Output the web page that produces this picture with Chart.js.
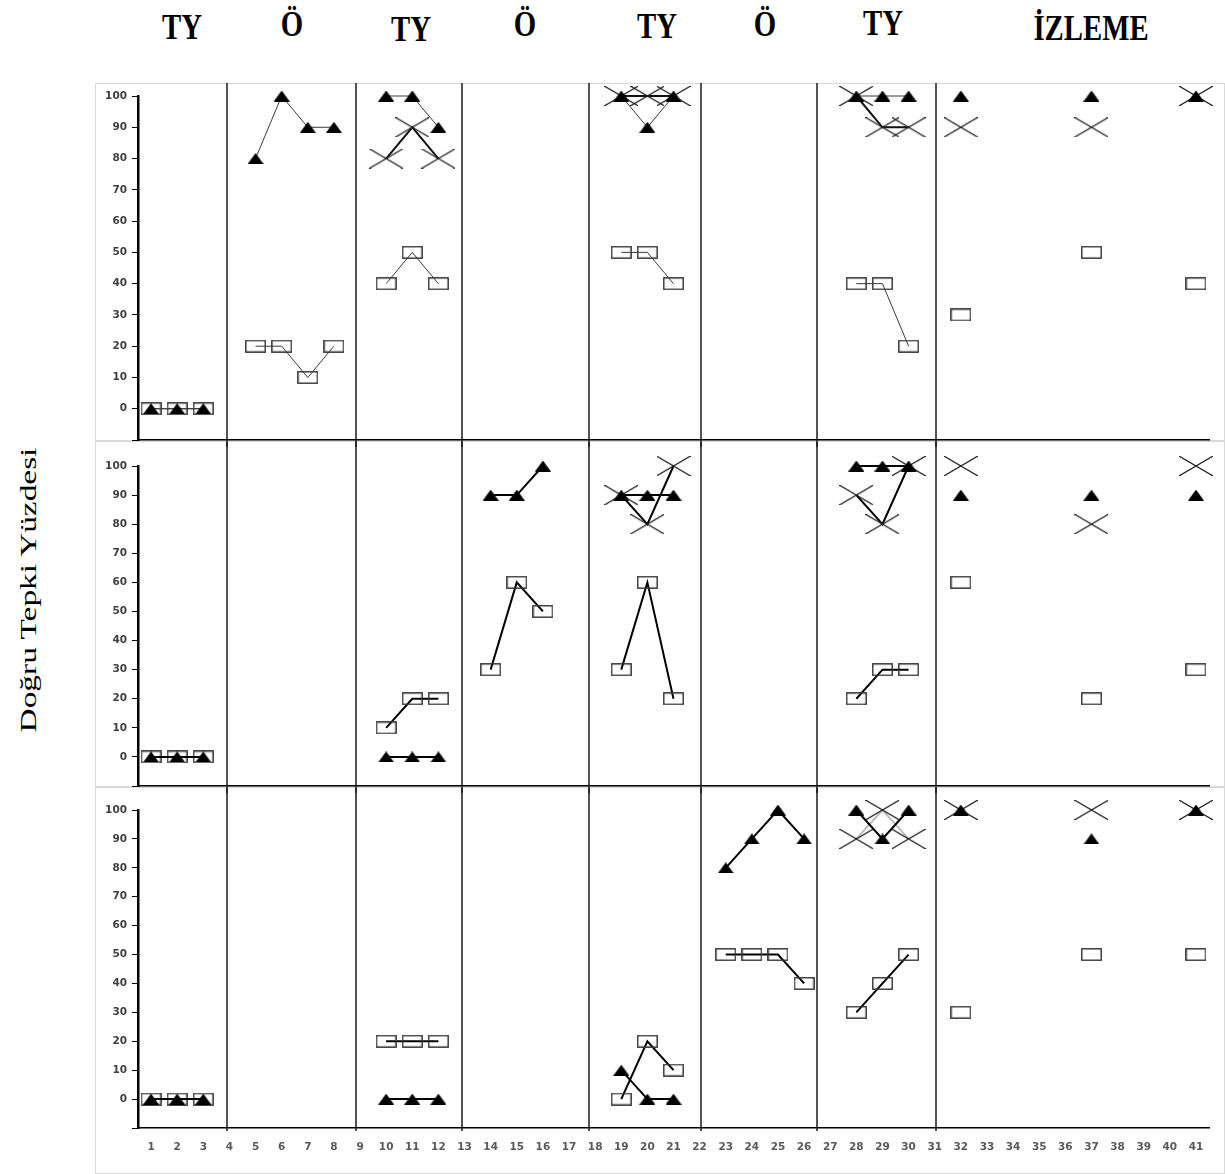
<!DOCTYPE html>
<html>
<head>
<meta charset="utf-8">
<script src="https://cdn.jsdelivr.net/npm/chart.js@4.4.1/dist/chart.umd.min.js"></script>
<style>
  body{margin:0;background:#fff;width:1225px;height:1174px;position:relative;overflow:hidden;}
  .panel{position:absolute;left:95px;width:1130px;}
  .phase{position:absolute;font:bold 36px 'Liberation Serif',serif;color:#000;white-space:nowrap;
         transform:translate(-50%,-50%) scaleX(0.8);line-height:1;}
  #ytitle{position:absolute;left:28px;top:590px;font:23px 'Liberation Serif',serif;color:#000;white-space:nowrap;
          transform:translate(-50%,-50%) rotate(-90deg) scaleX(1.45);line-height:1;}
</style>
</head>
<body>
<div class="phase" style="left:182px;top:27px">TY</div>
<div class="phase" style="left:292px;top:24px">Ö</div>
<div class="phase" style="left:411px;top:29px">TY</div>
<div class="phase" style="left:525px;top:24px">Ö</div>
<div class="phase" style="left:657px;top:26px">TY</div>
<div class="phase" style="left:765px;top:24px">Ö</div>
<div class="phase" style="left:883px;top:23px">TY</div>
<div class="phase" style="left:1091px;top:28px">İZLEME</div>
<div id="ytitle">Doğru Tepki Yüzdesi</div>

<div class="panel" style="top:83px;height:364px"><canvas id="p1"></canvas></div>
<div class="panel" style="top:441px;height:352px"><canvas id="p2"></canvas></div>
<div class="panel" style="top:787px;height:387px"><canvas id="p3"></canvas></div>

<script>
const _ = null;
// oturumlar 1..41
const sessions = Array.from({length:41}, (v,i)=>i+1);
// faz ayırıcı çizgiler (oturum ekseninde)
const phaseBreaks = [3.9, 8.85, 12.9, 17.75, 22.05, 26.5, 31.05];

// panel 1
const p1Tri   = [0,0,0,_,80,100,90,90,_,100,100,90,_,_,_,_,_,_,100,90,100,_,_,_,_,_,_,100,100,100,_,100,_,_,_,_,100,_,_,_,100];
const p1Box   = [0,0,0,_,20,20,10,20,_,40,50,40,_,_,_,_,_,_,50,50,40,_,_,_,_,_,_,40,40,20,_,30,_,_,_,_,50,_,_,_,40];
const p1Cross = [_,_,_,_,_,_,_,_,_,80,90,80,_,_,_,_,_,_,100,100,100,_,_,_,_,_,_,100,90,90,_,90,_,_,_,_,90,_,_,_,100];
// panel 2
const p2Tri   = [0,0,0,_,_,_,_,_,_,0,0,0,_,90,90,100,_,_,90,90,90,_,_,_,_,_,_,100,100,100,_,90,_,_,_,_,90,_,_,_,90];
const p2Box   = [0,0,0,_,_,_,_,_,_,10,20,20,_,30,60,50,_,_,30,60,20,_,_,_,_,_,_,20,30,30,_,60,_,_,_,_,20,_,_,_,30];
const p2Cross = [_,_,_,_,_,_,_,_,_,_,_,_,_,_,_,_,_,_,90,80,100,_,_,_,_,_,_,90,80,100,_,100,_,_,_,_,80,_,_,_,100];
// panel 3
const p3Tri   = [0,0,0,_,_,_,_,_,_,0,0,0,_,_,_,_,_,_,10,0,0,_,80,90,100,90,_,100,90,100,_,100,_,_,_,_,90,_,_,_,100];
const p3Box   = [0,0,0,_,_,_,_,_,_,20,20,20,_,_,_,_,_,_,0,20,10,_,50,50,50,40,_,30,40,50,_,30,_,_,_,_,50,_,_,_,50];
const p3Cross = [_,_,_,_,_,_,_,_,_,_,_,_,_,_,_,_,_,_,_,_,_,_,_,_,_,_,_,90,100,90,_,100,_,_,_,_,100,_,_,_,100];

// marker images (Excel-like wide markers)
function mark(w, h, draw){
  const c = document.createElement('canvas');
  c.width = w; c.height = h;
  draw(c.getContext('2d'), w, h);
  return c;
}
const triMark = mark(16, 11, (g,w,h)=>{
  g.fillStyle = '#000';
  g.beginPath(); g.moveTo(w/2,0); g.lineTo(w,h); g.lineTo(0,h); g.closePath(); g.fill();
});
const boxMark = mark(21, 13, (g,w,h)=>{
  g.strokeStyle = '#333'; g.lineWidth = 1.4;
  g.strokeRect(0.8, 0.8, w-1.6, h-1.6);
});
const crossMark = mark(34, 20, (g,w,h)=>{
  g.strokeStyle = '#1e1e1e'; g.lineWidth = 1.2;
  g.beginPath(); g.moveTo(0,0); g.lineTo(w,h); g.moveTo(w,0); g.lineTo(0,h); g.stroke();
});

const pts = arr => arr.map((v,i)=>({x:sessions[i], y:v}));

const phasePlugin = {
  id:'phases',
  beforeDraw(chart, args, o){
    const {ctx} = chart;
    ctx.save();
    ctx.strokeStyle = '#d9d9d9'; ctx.lineWidth = 1;
    ctx.strokeRect(0.5, 0.5, chart.width-1, o.frameH-1);
    ctx.restore();
  },
  beforeDatasetsDraw(chart, args, o){
    const {ctx, scales:{x}} = chart;
    const bottom = o.full ? chart.height : chart.chartArea.bottom + 3;
    ctx.save();
    ctx.strokeStyle = '#1a1a1a'; ctx.lineWidth = 1.5;
    phaseBreaks.forEach(v=>{
      const px = Math.round(x.getPixelForValue(v));
      ctx.beginPath(); ctx.moveTo(px, 0); ctx.lineTo(px, bottom); ctx.stroke();
    });
    ctx.restore();
  }
};

const tickFont = {family:'DejaVu Sans', size:10.5, weight:'bold'};

function makePanel(id, tri, box, cross, st){
  const ds = (data, img, color, width) => ({
    data: pts(data), pointStyle: img, pointRadius: 5, borderColor: color, borderWidth: width,
    spanGaps: false, clip: false, tension: 0, fill: false
  });
  return new Chart(document.getElementById(id), {
    type:'line',
    data:{ datasets:[
      ds(tri, triMark, st.lineColor, st.w[0]),
      ds(box, boxMark, st.lineColor, st.w[1]),
      ds(cross, crossMark, st.crossColor, st.w[2])
    ]},
    plugins:[phasePlugin],
    options:{
      responsive:true, maintainAspectRatio:false, animation:false, events:[],
      layout:{ padding:{ left:0, right:16, top:st.top, bottom:st.bottom } },
      plugins:{ legend:{display:false}, tooltip:{enabled:false}, phases:{ full:st.full, frameH:st.frameH } },
      scales:{
        x:{
          type:'linear', min:0.5, max:41.5,
          afterBuildTicks: s => { s.ticks = sessions.map(v=>({value:v})); },
          afterFit: s => { s.height = st.xh; },
          grid:{ display:false, drawTicks:false },
          border:{ color:'#000', width:1.5 },
          ticks:{ display:st.labels, autoSkip:false, maxRotation:0, padding:13, color:'#595959', font:tickFont }
        },
        y:{
          min:-10, max:100,
          afterFit: s => { s.width = 43; s.paddingTop = 0; s.paddingBottom = 0; },
          ticks:{ stepSize:10, padding:5, color:'#404040', font:tickFont, callback: v => v < 0 ? '' : v },
          grid:{ drawOnChartArea:false, color:'#000', tickLength:6, lineWidth:1 },
          border:{ color:'#000', width:2.5 }
        }
      }
    }
  });
}

makePanel('p1', p1Tri, p1Box, p1Cross, {lineColor:'#3a3a3a', crossColor:'#111', w:[1,1,2], top:13, bottom:2, xh:0, full:true, labels:false, frameH:358});
makePanel('p2', p2Tri, p2Box, p2Cross, {lineColor:'#000', crossColor:'#000', w:[2,2,2], top:25, bottom:3, xh:0, full:true, labels:false, frameH:346});
makePanel('p3', p3Tri, p3Box, p3Cross, {lineColor:'#000', crossColor:'#bdbdbd', w:[2,2,2], top:23, bottom:16, xh:30, full:false, labels:true, frameH:387});
</script>
</body>
</html>
